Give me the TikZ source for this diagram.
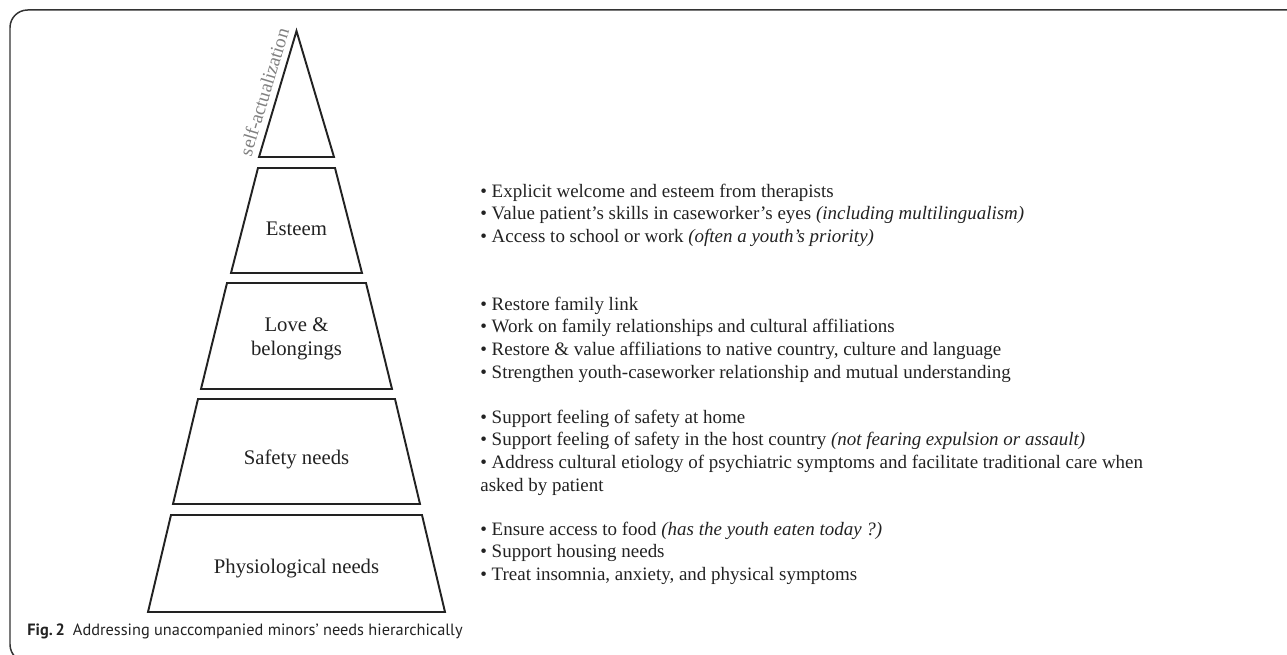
\documentclass[tikz,border=0pt]{standalone}
\usepackage{fontspec}
\setmainfont{Liberation Serif}
\newfontfamily\capfont{PT Sans}
\usepackage{tikz}
\usetikzlibrary{calc}
\definecolor{inkgray}{HTML}{222222}
\tikzset{
  tierline/.style={line width=1.1pt, color=inkgray, line join=miter},
  tierlabel/.style={font=\fontsize{11.8}{14}\selectfont, text=inkgray, align=center, inner sep=0pt},
  needlist/.style={font=\fontsize{10.8}{12.95}\selectfont, text=inkgray, align=left, anchor=north west, inner sep=0pt}
}
% one level of the pyramid: (top y : top half width)(bottom y : bottom half width)
\def\tier(#1:#2)(#3:#4){\draw[tierline] (296.5-#2, #1) -- (296.5+#2, #1) -- (296.5+#4, #3) -- (296.5-#4, #3) -- cycle;}

\begin{document}
\begin{tikzpicture}[x=0.02cm, y=-0.02cm]
			%%%%% START %%%%%
			\useasboundingbox (0, 0) rectangle (1287, 655);
			\clip (0, 0) rectangle (1287, 655);
			
			\draw[line width=0.85pt, color=black!80, rounded corners=10] (10, 10) rectangle (1310, 662);
			
			% top of the pyramid
			\draw[tierline] (296.5, 31) -- (334, 157) -- (259, 157) -- cycle;
			\node[rotate=73.2, font=\fontsize{10.9}{13}\selectfont, text=black!50, inner sep=0pt] (selfact) at (264, 92) {self-actualization};
			
			\tier(168:38.5)(273:65.5)
			\node[tierlabel] (esteem) at (296.5, 229) {Esteem};
			
			\tier(283:69.5)(389:95.5)
			\node[tierlabel] (love) at (296.5, 339) {Love \&\\belongings};
			
			\tier(399:98.5)(504:123.5)
			\node[tierlabel] (safety) at (296.5, 459) {Safety needs};
			
			\tier(515:125.5)(612:148.5)
			\node[tierlabel] (physio) at (296.5, 569) {Physiological needs};
			
			% what the caseworker can do at each level
			\node[needlist] (esteemlist) at (480, 183.5) {• Explicit welcome and esteem from therapists\\
				• Value patient’s skills in caseworker’s eyes \textit{(including multilingualism)}\\
				• Access to school or work \textit{(often a youth’s priority)}};
			
			\node[needlist] (lovelist) at (480, 296.5) {• Restore family link\\
				• Work on family relationships and cultural affiliations\\
				• Restore \& value affiliations to native country, culture and language\\
				• Strengthen youth-caseworker relationship and mutual understanding};
			
			\node[needlist] (safetylist) at (480, 409.5) {• Support feeling of safety at home\\
				• Support feeling of safety in the host country \textit{(not fearing expulsion or assault)}\\
				• Address cultural etiology of psychiatric symptoms and facilitate traditional care when\\
				asked by patient};
			
			\node[needlist] (physiolist) at (480, 521.5) {• Ensure access to food \textit{(has the youth eaten today ?)}\\
				• Support housing needs\\
				• Treat insomnia, anxiety, and physical symptoms};
			
			\node[anchor=base west, inner sep=0pt, font=\capfont\fontsize{9.3}{11}\selectfont, text=inkgray] (caption) at (27, 635) {\textbf{Fig.\,2}\enspace Addressing unaccompanied minors’ needs hierarchically};
			%%%%% END %%%%%
\end{tikzpicture}
\end{document}
